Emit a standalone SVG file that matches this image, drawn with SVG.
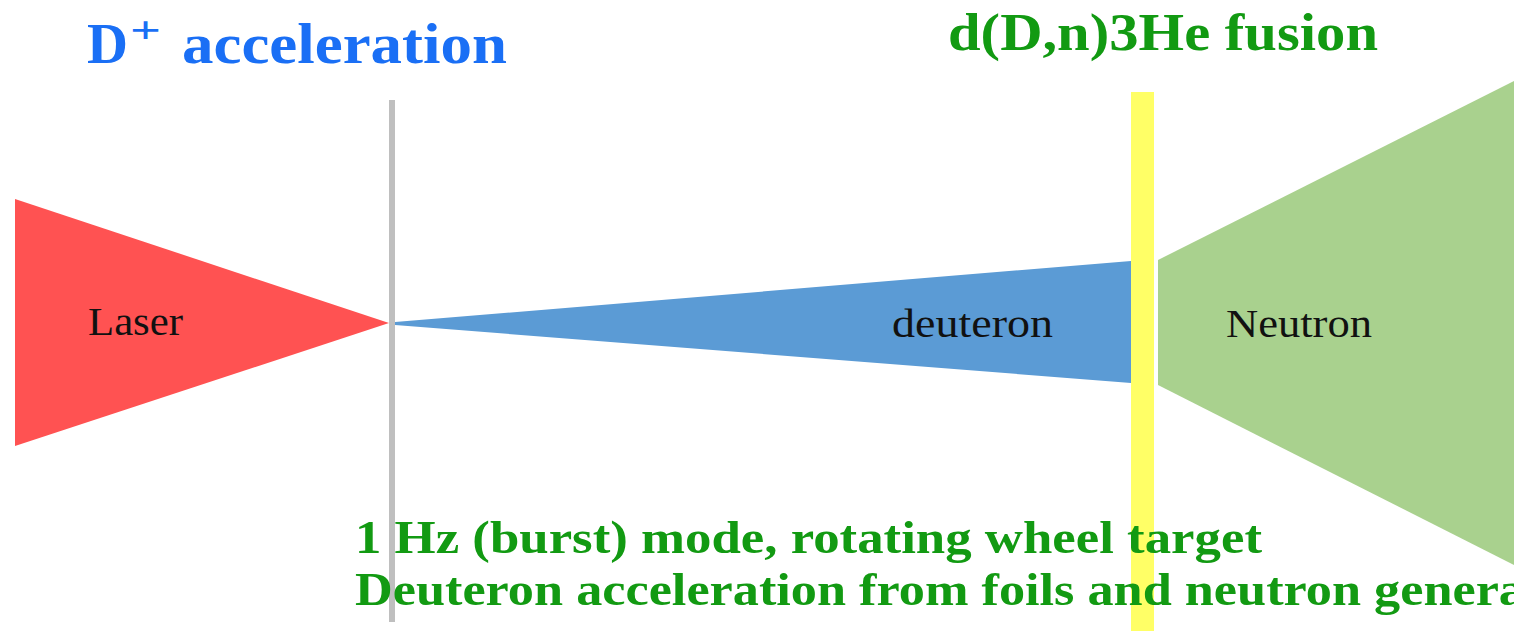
<svg xmlns="http://www.w3.org/2000/svg" width="1514" height="631" viewBox="0 0 1514 631">
<style>
.title{font-family:"Liberation Serif",serif;font-weight:bold}
.blue{fill:#1a6ff5}
.green{fill:#129a12}
.lbl{font-family:"Liberation Serif",serif;font-size:40px;fill:#111}
.bottom{font-family:"Liberation Serif",serif;font-weight:bold;font-size:47px;fill:#129a12}
</style>
<rect width="1514" height="631" fill="#ffffff"/>
<g id="laser">
<polygon points="15,199 389,323 15,446" fill="#ff5252"/>
<text class="lbl" x="88" y="335" textLength="95" lengthAdjust="spacingAndGlyphs">Laser</text>
</g>
<g id="foil">
<rect x="389" y="100" width="6" height="522" fill="#bfbfbf"/>
</g>
<g id="deuteron">
<polygon points="395,322 1131,261 1131,383 395,325" fill="#5b9bd5"/>
<text class="lbl" x="892" y="337" textLength="161" lengthAdjust="spacingAndGlyphs">deuteron</text>
</g>
<g id="neutron">
<polygon points="1158,260 1514,81 1514,565 1158,385" fill="#a9d18e"/>
<text class="lbl" x="1226" y="337" textLength="146" lengthAdjust="spacingAndGlyphs">Neutron</text>
</g>
<g id="converter">
<rect x="1131" y="92" width="23" height="539" fill="#ffff66"/>
</g>
<g id="connectors"></g>
<g id="titles">
<text class="title blue" x="87" y="63" font-size="58" textLength="41" lengthAdjust="spacingAndGlyphs">D</text>
<text class="title blue" x="130" y="43" font-size="38" textLength="31" lengthAdjust="spacingAndGlyphs">+</text>
<text class="title blue" x="182" y="63" font-size="58" textLength="325" lengthAdjust="spacingAndGlyphs">acceleration</text>
<text class="title green" x="948" y="50" font-size="52" textLength="430" lengthAdjust="spacingAndGlyphs">d(D,n)3He fusion</text>
</g>
<g id="notes">
<text class="bottom" x="355" y="553" textLength="907" lengthAdjust="spacingAndGlyphs">1 Hz (burst) mode, rotating wheel target</text>
<text class="bottom" x="355" y="605" textLength="1170" lengthAdjust="spacingAndGlyphs">Deuteron acceleration from foils and neutron genera</text>
</g>
</svg>
